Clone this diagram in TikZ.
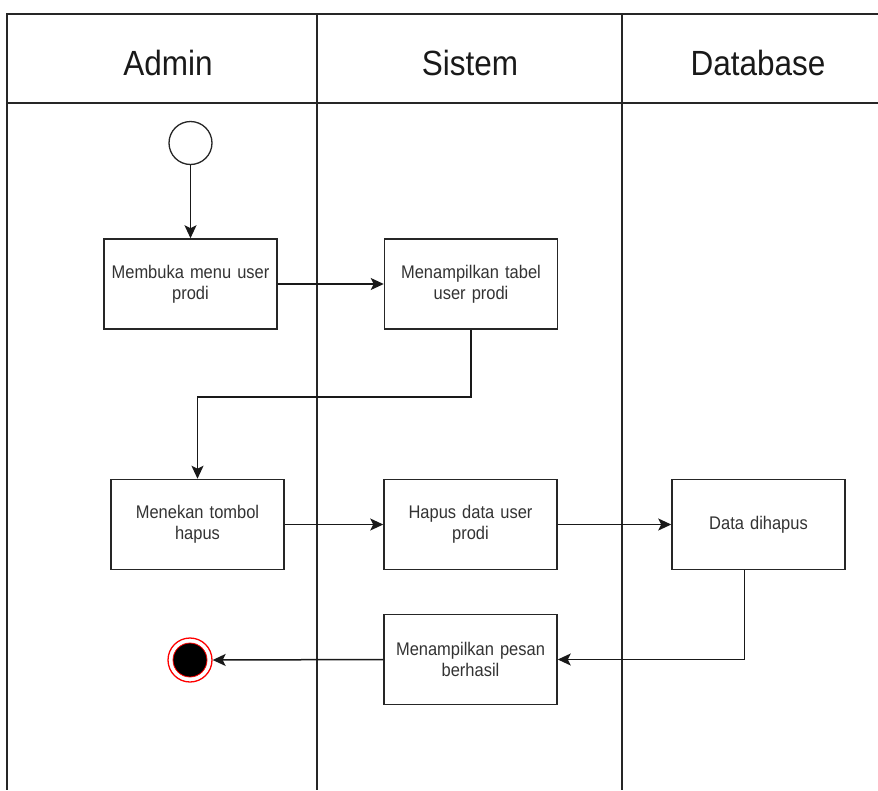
\documentclass[tikz,border=0pt]{standalone}
\usepackage{fontspec}
\setmainfont{Liberation Sans}[FakeStretch=0.9]
\usetikzlibrary{arrows.meta}

\tikzset{
  lane/.style={line width=1.5pt, draw=black!85},
  lanehead/.style={font=\fontsize{35}{40}\selectfont, text=black!90},
  actbox/.style={draw=black!85, line width=1.5pt, fill=white,
    minimum width=173pt, minimum height=90pt, inner sep=0pt,
    text width=165pt, align=center, text=black!80,
    font=\fontsize{18.3}{21}\selectfont},
  flow/.style={line width=1.5pt, draw=black!90,
    -{Stealth[length=13pt, width=12pt, inset=3pt]}},
  startnode/.style={circle, draw=black!85, line width=1.3pt, fill=white,
    minimum size=43pt, inner sep=0pt},
  endring/.style={circle, draw=red, line width=1.3pt, fill=white,
    minimum size=44pt, inner sep=0pt},
  endcore/.style={circle, draw=red, line width=0.8pt, fill=black,
    minimum size=34pt, inner sep=0pt},
}

\begin{document}
\begin{tikzpicture}[x=1pt, y=-1pt]
  \useasboundingbox (0,0) rectangle (878,790);

  % swimlane frame and headers
  \draw[lane] (878,14) -- (7,14) -- (7,790);
  \draw[lane] (7,103) -- (878,103);
  \draw[lane] (317,14) -- (317,790);
  \draw[lane] (622,14) -- (622,790);
  \node[lanehead] (hAdmin) at (168,63) {Admin};
  \node[lanehead] (hSistem) at (470,63) {Sistem};
  \node[lanehead] (hDb) at (758,63) {Database};

  % activity nodes
  \node[startnode] (start) at (190.5,143) {};
  \node[actbox] (box1) at (190.5,284) {Membuka menu user\\prodi};
  \node[actbox] (box2) at (471,284) {Menampilkan tabel\\user prodi};
  \node[actbox] (box3) at (197.5,524.5) {Menekan tombol\\hapus};
  \node[actbox] (box4) at (470.5,524.5) {Hapus data user\\prodi};
  \node[actbox] (box5) at (758.5,524.5) {Data dihapus};
  \node[actbox] (box6) at (470.5,659.5) {Menampilkan pesan\\berhasil};
  \node[endring] (finish) at (190,660) {};
  \node[endcore] (finishcore) at (190,660) {};

  % control flow
  \coordinate (bend) at (471,397);
  \draw[flow] (start) -- (box1);
  \draw[flow] (box1) -- (box2);
  \draw[flow] (box2.south) -- (bend) -| (box3.north);
  \draw[flow] (box3) -- (box4);
  \draw[flow] (box4) -- (box5);
  \draw[flow] ([xshift=-14pt]box5.south) |- (box6.east);
  \draw[flow] (box6.west) -- (finish.east);
\end{tikzpicture}
\end{document}
